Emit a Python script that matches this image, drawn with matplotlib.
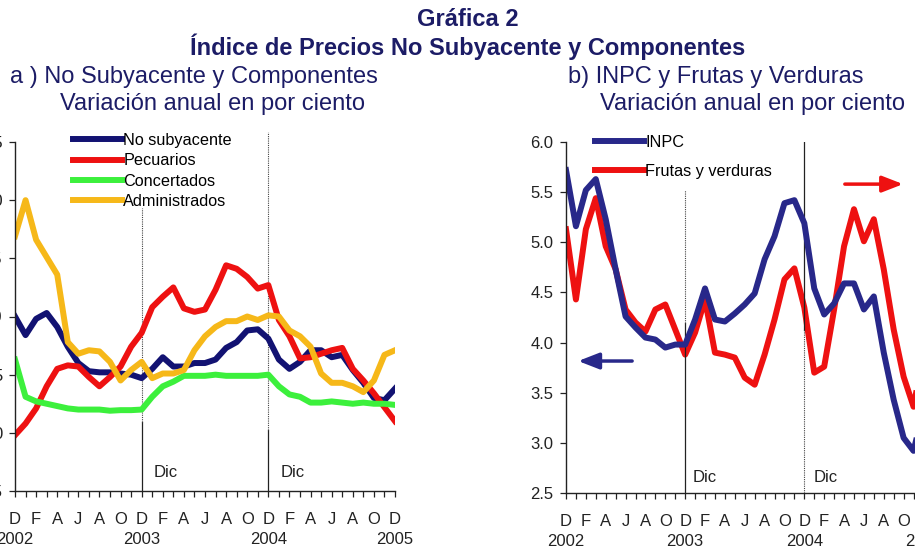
import matplotlib
matplotlib.use("Agg")
import matplotlib.pyplot as plt
import numpy as np

plt.rcParams['font.family'] = ['Liberation Sans', 'DejaVu Sans']

# ---------------- data ----------------
months = list(range(37))  # Dec 2002 .. Dec 2005
month_letters = ['D', 'E', 'F', 'M', 'A', 'M', 'J', 'J', 'A', 'S', 'O', 'N'] * 3 + ['D']
years = ['2002', '2003', '2004', '2005']
year_pos = [0, 12, 24, 36]

no_subyacente = [10.0, 8.4, 9.8, 10.3, 9.1, 7.4, 6.0, 5.3, 5.2, 5.2, 5.1, 5.0,
                 4.7, 5.5, 6.5, 5.7, 5.7, 6.0, 6.0, 6.3, 7.3, 7.8, 8.8, 8.9,
                 8.1, 6.3, 5.5, 6.1, 7.1, 7.1, 6.5, 6.7, 5.4, 4.3, 3.0, 2.8, 3.8]
pecuarios = [-0.2, 0.8, 2.1, 4.0, 5.5, 5.8, 5.7, 4.8, 4.0, 4.8, 5.7, 7.4,
             8.6, 10.8, 11.7, 12.5, 10.7, 10.4, 10.6, 12.3, 14.4, 14.1, 13.4, 12.4,
             12.7, 9.7, 8.3, 6.4, 6.5, 6.8, 7.1, 7.3, 5.5, 4.5, 3.4, 2.2, 1.0]
concertados = [6.3, 3.1, 2.7, 2.5, 2.3, 2.1, 2.0, 2.0, 2.0, 1.9, 1.95, 1.95,
               2.0, 3.1, 4.0, 4.4, 4.9, 4.9, 4.9, 5.0, 4.9, 4.9, 4.9, 4.9,
               5.0, 4.0, 3.3, 3.1, 2.6, 2.6, 2.7, 2.6, 2.5, 2.6, 2.5, 2.5, 2.4]
administrados = [16.9, 20.0, 16.6, 15.1, 13.6, 7.8, 6.8, 7.1, 7.0, 6.1, 4.5, 5.4,
                 6.1, 4.7, 5.1, 5.1, 5.4, 7.1, 8.3, 9.1, 9.6, 9.6, 10.0, 9.7,
                 10.1, 10.0, 8.8, 8.3, 7.4, 5.1, 4.3, 4.3, 4.0, 3.5, 4.5, 6.7, 7.1]

inpc = [5.72, 5.16, 5.52, 5.63, 5.23, 4.73, 4.26, 4.15, 4.05, 4.03, 3.95, 3.98,
        3.98, 4.23, 4.54, 4.23, 4.21, 4.29, 4.38, 4.49, 4.83, 5.06, 5.39, 5.42,
        5.19, 4.54, 4.28, 4.39, 4.59, 4.59, 4.33, 4.46, 3.90, 3.43, 3.05, 2.92, 3.33]
frutas_verduras = [16.3, 9.3, 16.3, 19.4, 14.6, 12.3, 8.3, 7.0, 6.1, 8.3, 8.8, 6.3,
                   3.8, 6.0, 9.3, 4.0, 3.8, 3.5, 1.5, 0.8, 3.8, 7.3, 11.3, 12.4,
                   8.5, 2.0, 2.6, 8.3, 14.6, 18.3, 15.1, 17.3, 12.3, 6.3, 1.6, -1.4, 4.0]

NAVY = '#121272'
BLUE = '#28288a'
RED = '#ee1111'
GREEN = '#3cf03c'
GOLD = '#f6b819'
TITLE = '#1c1c66'
TXT = '#222222'
LW = 4.3

W, H = 915, 546
fig = plt.figure(figsize=(W / 100, H / 100), dpi=100)


def fx(px):
    return px / W


def fy(py):
    return 1 - py / H


xlabels = [month_letters[m] if m % 2 == 0 else '' for m in months]


def style_axis(ax):
    for s in ['top', 'right']:
        ax.spines[s].set_visible(False)
    for s in ['left', 'bottom']:
        ax.spines[s].set_color(TXT)
        ax.spines[s].set_linewidth(1.0)
    ax.set_xticks(months)
    ax.set_xticklabels(xlabels, fontsize=12)
    ax.tick_params(axis='x', length=4, width=0.9, pad=11, colors=TXT)
    ax.tick_params(axis='y', length=4, width=0.9, pad=5, labelsize=12, colors=TXT)
    ax.set_xlim(0, 36)
    ax.patch.set_alpha(0)
    for yr, p in zip(years, year_pos):
        ax.annotate(yr, xy=(p, 0), xycoords=('data', 'axes fraction'),
                    xytext=(0, -49), textcoords='offset pixels', fontsize=12,
                    ha='center', va='center', color=TXT, annotation_clip=False)


# ---------------- left panel ----------------
ax1 = fig.add_axes([fx(15), fy(491), fx(395) - fx(15), fy(142) - fy(491)])
style_axis(ax1)
ax1.set_ylim(-5, 25)
ax1.set_yticks([-5, 0, 5, 10, 15, 20, 25])

ax1.axvline(12, ymin=0, ymax=0.198, color=TXT, lw=0.9)
ax1.axvline(12, ymin=0.198, ymax=0.811, color='#444444', lw=0.8, ls=(0, (1, 1)))
ax1.axvline(24, ymin=0, ymax=0.175, color=TXT, lw=0.9)
ax1.axvline(24, ymin=0.175, ymax=1.03, color='#444444', lw=0.8, ls=(0, (1, 1)), clip_on=False)

l1, = ax1.plot(months, no_subyacente, color=NAVY, lw=LW, label='No subyacente')
l2, = ax1.plot(months, pecuarios, color=RED, lw=LW, label='Pecuarios')
l3, = ax1.plot(months, concertados, color=GREEN, lw=LW, label='Concertados')
l4, = ax1.plot(months, administrados, color=GOLD, lw=LW, label='Administrados')
ax1.legend(handles=[l1, l2, l3, l4], loc='upper left',
           bbox_to_anchor=(fx(73), fy(133)), bbox_transform=fig.transFigure,
           frameon=False, borderpad=0, borderaxespad=0, handlelength=3.0,
           handletextpad=0.1, labelspacing=0.33, fontsize=11.7)

for p in [12, 24]:
    ax1.annotate('Dic', xy=(p, 0.052), xycoords=('data', 'axes fraction'),
                 xytext=(12, 0), textcoords='offset pixels', fontsize=12,
                 va='center', ha='left', color=TXT)

# ---------------- right panel ----------------
ax2 = fig.add_axes([fx(566), fy(493), fx(566 + 36 * 9.93) - fx(566), fy(142) - fy(493)])
style_axis(ax2)
ax2.set_ylim(2.5, 6.0)
ax2.set_yticks(np.arange(2.5, 6.01, 0.5))
ax2.yaxis.set_major_formatter(matplotlib.ticker.FormatStrFormatter('%.1f'))

ax3 = ax2.twinx()
ax3.set_ylim(-10, 25)
for s in ['top', 'left', 'bottom']:
    ax3.spines[s].set_visible(False)
ax3.set_xlim(0, 36)

ax2.axvline(12, ymin=0, ymax=0.484, color=TXT, lw=0.9)
ax2.axvline(12, ymin=0.484, ymax=0.863, color='#444444', lw=0.8, ls=(0, (1, 1)))
ax2.axvline(24, ymin=0.464, ymax=1.0, color=TXT, lw=0.9)
ax2.axvline(24, ymin=0, ymax=0.464, color='#444444', lw=0.8, ls=(0, (1, 1)))

lf, = ax3.plot(months, frutas_verduras, color=RED, lw=LW, label='Frutas y verduras')
ax2.set_zorder(ax3.get_zorder() + 1)
li2, = ax2.plot(months, inpc, color=BLUE, lw=LW, label='INPC')
ax2.legend(handles=[li2, lf], loc='upper left',
           bbox_to_anchor=(fx(595), fy(135)), bbox_transform=fig.transFigure,
           frameon=False, borderpad=0, borderaxespad=0, handlelength=3.0,
           handletextpad=0.1, labelspacing=0.85, fontsize=11.7)

for p, off in [(12, 7), (24, 9)]:
    ax2.annotate('Dic', xy=(p, 0.043), xycoords=('data', 'axes fraction'),
                 xytext=(off, 0), textcoords='offset pixels', fontsize=12,
                 va='center', ha='left', color=TXT)

ax2.annotate('', xy=(0.034, 0.376), xytext=(0.185, 0.376), xycoords='axes fraction',
             arrowprops=dict(arrowstyle='-|>,head_width=0.35,head_length=0.9',
                             color=BLUE, lw=2.5, mutation_scale=14, shrinkA=0, shrinkB=0))
ax2.annotate('', xy=(0.943, 0.880), xytext=(0.780, 0.880), xycoords='axes fraction',
             arrowprops=dict(arrowstyle='-|>,head_width=0.35,head_length=0.9',
                             color=RED, lw=2.5, mutation_scale=14, shrinkA=0, shrinkB=0))

# ---------------- titles ----------------
fig.text(fx(468), fy(20), 'Gráfica 2', ha='center', va='center', fontsize=17,
         fontweight='bold', color=TITLE)
fig.text(fx(467.5), fy(47), 'Índice de Precios No Subyacente y Componentes', ha='center',
         va='center', fontsize=17, fontweight='bold', color=TITLE)
fig.text(fx(10), fy(77), 'a ) No Subyacente y Componentes', ha='left', va='center',
         fontsize=17, color=TITLE)
fig.text(fx(60), fy(104), 'Variación anual en por ciento', ha='left', va='center',
         fontsize=17, color=TITLE)
fig.text(fx(568), fy(77), 'b) INPC y Frutas y Verduras', ha='left', va='center',
         fontsize=17, color=TITLE)
fig.text(fx(600), fy(104), 'Variación anual en por ciento', ha='left', va='center',
         fontsize=17, color=TITLE)

fig.savefig('out.png', dpi=100)
